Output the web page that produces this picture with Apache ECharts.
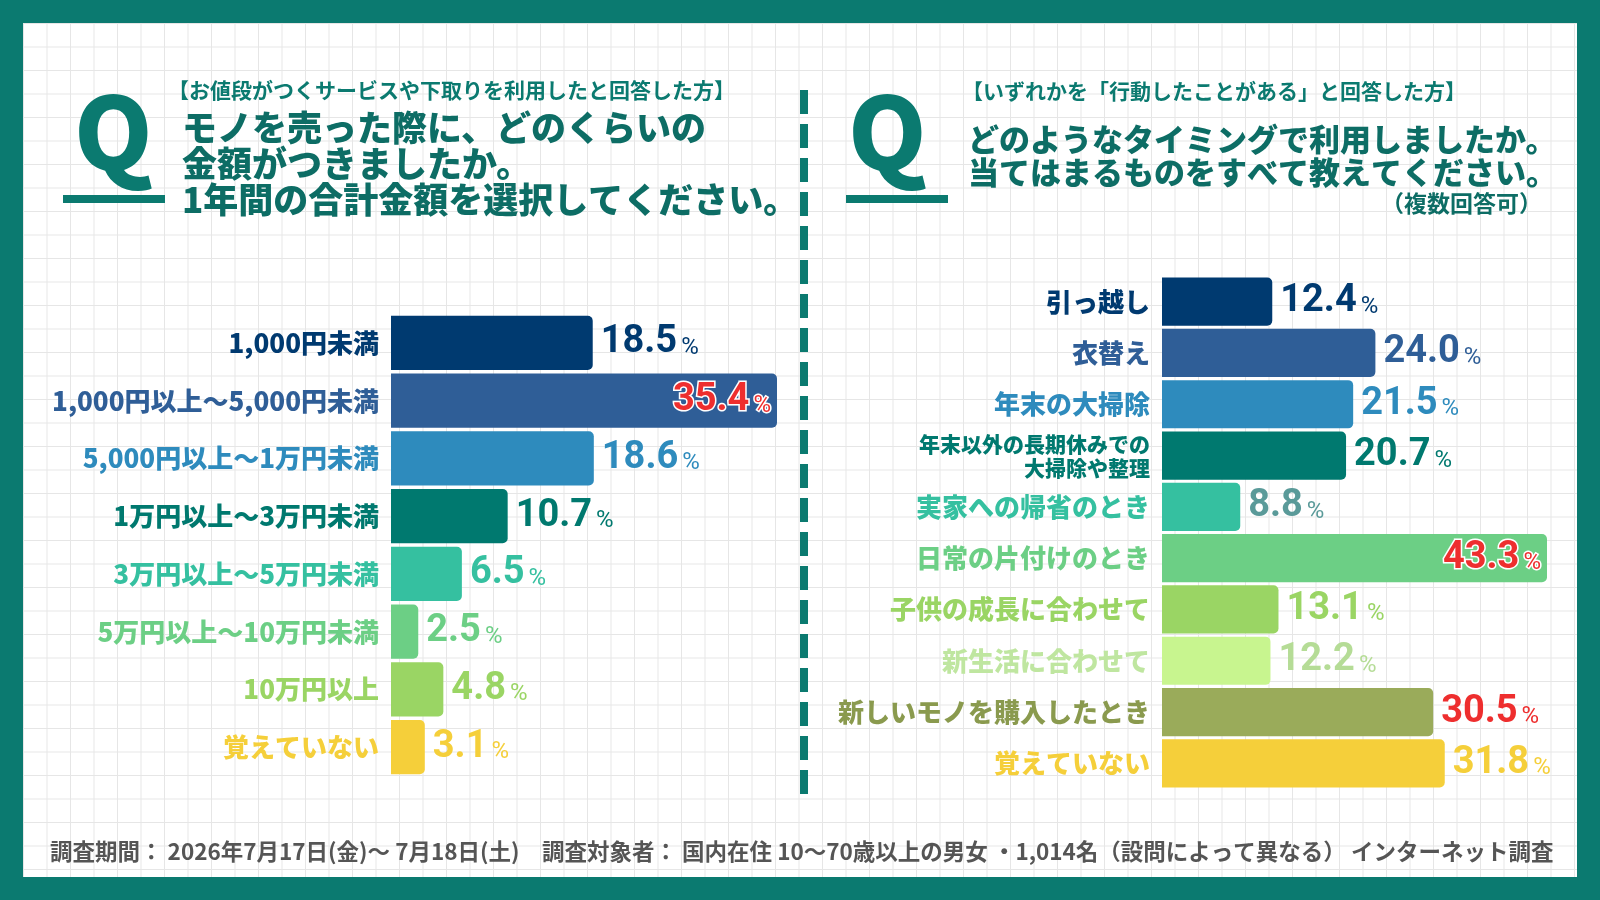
<!DOCTYPE html>
<html><head><meta charset="utf-8">
<script src="https://cdn.jsdelivr.net/npm/echarts@6/dist/echarts.min.js"></script>
<style>
html,body{margin:0;padding:0;width:1600px;height:900px;background:#0b7a70;overflow:hidden}
#wrap{position:absolute;left:23px;top:23px;width:1554px;height:854px;background-color:#fff;
background-image:linear-gradient(#e6e6e6 1px,transparent 1px),linear-gradient(90deg,#e6e6e6 1px,transparent 1px);background-size:23.5px 23.5px}
#c{position:absolute;left:0;top:0;width:1600px;height:900px}
</style></head><body><div id="wrap"></div><div id="c"></div>
<script>
const leftCats=['1,000円未満','1,000円以上～5,000円未満','5,000円以上～1万円未満','1万円以上～3万円未満','3万円以上～5万円未満','5万円以上～10万円未満','10万円以上','覚えていない'];
const leftVals=[18.5,35.4,18.6,10.7,6.5,2.5,4.8,3.1];
const leftColors=['#003a70','#2f5e97','#2e8bbd','#00796f','#35c0a0','#6ccf85','#9ad564','#f5cf3a'];
const leftText=['#003a70','#2f5e97','#2e8bbd','#00796f','#35c0a0','#6ccf85','#9ad564','#f5cf3a'];
const rightCats=['引っ越し','衣替え','年末の大掃除','年末以外の長期休みでの\n大掃除や整理','実家への帰省のとき','日常の片付けのとき','子供の成長に合わせて','新生活に合わせて','新しいモノを購入したとき','覚えていない'];
const rightVals=[12.4,24.0,21.5,20.7,8.8,43.3,13.1,12.2,30.5,31.8];
const rightColors=['#003a70','#2f5e97','#2e8bbd','#00796f','#35c0a0','#6ccf85','#9ad564','#c8f58f','#9aab5a','#f5cf3a'];
const rightText=['#003a70','#2f5e97','#2e8bbd','#00796f','#35c0a0','#6ccf85','#9ad564','#bfe6a0','#8a9a4e','#f5cf3a'];
const rightValText=['#003a70','#2f5e97','#2e8bbd','#00796f','#5a9a99','#ee2e2e','#9ad564','#b5dc96','#ee2e2e','#f5cf3a'];
const leftValText=['#003a70','#ee2e2e','#2e8bbd','#00796f','#35c0a0','#6ccf85','#9ad564','#f5cf3a'];
const leftMax=35.4, rightMax=43.3;
const F='"Noto Sans CJK JP","Noto Sans",sans-serif';
const TEAL='#0b7a70';

function buildRich(colors,prefix,size,lh){const r={};colors.forEach((c,i)=>{r[prefix+i]={color:c,fontSize:size,fontWeight:900,fontFamily:F,lineHeight:lh,align:'right'}});return r;}
function seriesData(vals,colors,valText,highlightIdx){
  return vals.map((v,i)=>{
    const hi=highlightIdx.includes(i);
    return {value:v,itemStyle:{color:colors[i],borderRadius:[0,5,5,0]},
      label:{show:true,position:hi?'insideRight':'right',distance:hi?6:8,
        formatter:p=>'{n|'+p.value.toFixed(1)+'}{p|%}',
        rich:{n:{fontSize:38,fontWeight:700,fontFamily:'"Roboto","DejaVu Sans",sans-serif',color:valText[i],
              textBorderColor:hi?'#fff':'transparent',textBorderWidth:hi?3:0},
              p:{fontSize:24,fontFamily:'"Roboto","DejaVu Sans",sans-serif',color:valText[i],padding:[10,0,0,4],
              textBorderColor:hi?'#fff':'transparent',textBorderWidth:hi?3:0}}}};
  });
}
const chart=echarts.init(document.getElementById('c'));
chart.setOption({
  animation:false,
  grid:[{left:391,top:314,width:386,height:462},{left:1162,top:276,width:385,height:513}],
  xAxis:[{gridIndex:0,type:'value',min:0,max:leftMax,show:false},{gridIndex:1,type:'value',min:0,max:rightMax,show:false}],
  yAxis:[
   {gridIndex:0,type:'category',inverse:true,data:leftCats,axisLine:{show:false},axisTick:{show:false},
    axisLabel:{margin:12,formatter:(v,i)=>'{c'+i+'|'+v+'}',rich:buildRich(leftText,'c',26,30)}},
   {gridIndex:1,type:'category',inverse:true,data:rightCats,axisLine:{show:false},axisTick:{show:false},
    axisLabel:{margin:12,formatter:(v,i)=>v.split('\n').map(s=>'{'+(v.includes('\n')?'s':'c')+i+'|'+s+'}').join('\n'),
     rich:Object.assign(buildRich(rightText,'c',26,30),buildRich(rightText,'s',21,24))}}],
  series:[
   {type:'bar',xAxisIndex:0,yAxisIndex:0,barCategoryGap:'6%',data:seriesData(leftVals,leftColors,leftValText,[1])},
   {type:'bar',xAxisIndex:1,yAxisIndex:1,barCategoryGap:'6%',data:seriesData(rightVals,rightColors,rightValText,[5])}
  ],
  graphic:[
   {type:'text',left:74,top:82,style:{text:'Q',font:'900 100px '+F,fill:TEAL}},
   {type:'rect',shape:{x:63,y:195,width:102,height:8},style:{fill:TEAL}},
   {type:'text',left:848,top:82,style:{text:'Q',font:'900 100px '+F,fill:TEAL}},
   {type:'rect',shape:{x:846,y:195,width:102,height:8},style:{fill:TEAL}},
   {type:'line',shape:{x1:804,y1:90,x2:804,y2:800},style:{stroke:TEAL,lineWidth:8,lineDash:[24,10]}},
   {type:'text',left:168,top:80,style:{text:'【お値段がつくサービスや下取りを利用したと回答した方】',font:'700 21px '+F,fill:TEAL}},
   {type:'text',left:182,top:110,style:{text:'モノを売った際に、どのくらいの\n金額がつきましたか。\n1年間の合計金額を選択してください。',font:'900 35px '+F,fill:'#0d6d65',lineHeight:36}},
   {type:'text',left:962,top:81,style:{text:'【いずれかを「行動したことがある」と回答した方】',font:'700 21px '+F,fill:TEAL}},
   {type:'text',left:968,top:123,style:{text:'どのようなタイミングで利用しましたか。\n当てはまるものをすべて教えてください。',font:'900 31px '+F,fill:'#0d6d65',lineHeight:33}},
   {type:'text',right:58,top:192,style:{text:'（複数回答可）',font:'700 23px '+F,fill:'#0d6d65'}},
   {type:'text',left:50,top:840,style:{text:'調査期間： 2026年7月17日(金)～ 7月18日(土)　調査対象者： 国内在住 10～70歳以上の男女 ・1,014名（設問によって異なる） インターネット調査',font:'700 22.5px '+F,fill:'#555'}}
  ]
});
</script></body></html>
